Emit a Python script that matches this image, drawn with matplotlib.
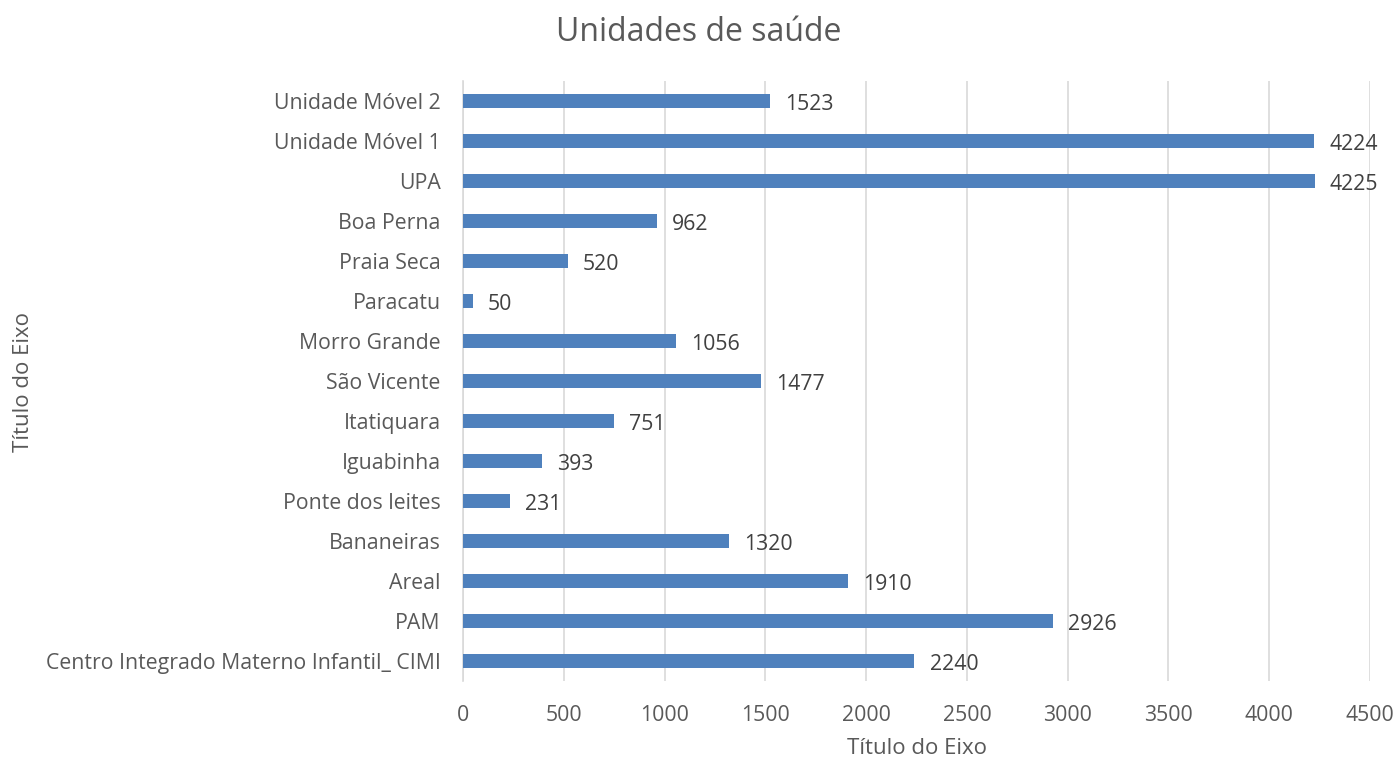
import matplotlib
matplotlib.use("Agg")
import matplotlib.pyplot as plt

categories = ["Centro Integrado Materno Infantil_ CIMI", "PAM", "Areal", "Bananeiras",
              "Ponte dos leites", "Iguabinha", "Itatiquara", "São Vicente", "Morro Grande",
              "Paracatu", "Praia Seca", "Boa Perna", "UPA", "Unidade Móvel 1", "Unidade Móvel 2"]
values = [2240, 2926, 1910, 1320, 231, 393, 751, 1477, 1056, 50, 520, 962, 4225, 4224, 1523]
xticks = [0, 500, 1000, 1500, 2000, 2500, 3000, 3500, 4000, 4500]

plt.rcParams['font.family'] = ['Open Sans', 'DejaVu Sans']
txt = '#595959'

fig = plt.figure(figsize=(13.97, 7.64), dpi=100)
ax = fig.add_axes([0.3314, 0.1086, 0.6493, 0.7854])
pos = list(range(len(categories)))
ax.barh(pos, values, height=0.36, color='#4F81BD', zorder=3)
for p, v in zip(pos, values):
    ax.text(v + 75, p - 0.08, str(v), va='center', ha='left', fontsize=15.3, color='#404040')
ax.set_xlim(0, 4500)
ax.set_ylim(-0.5, len(categories) - 0.5)
ax.set_yticks(pos)
ax.set_yticklabels(categories, fontsize=15.3, color=txt)
ax.set_xticks(xticks)
ax.set_xticklabels([str(t) for t in xticks], fontsize=15.3, color=txt)
ax.grid(axis='x', color='#D9D9D9', linewidth=1.2, zorder=0)
for s in ['top', 'right', 'bottom']:
    ax.spines[s].set_visible(False)
ax.spines['left'].set_color('#D9D9D9')
ax.spines['left'].set_linewidth(1.2)
ax.tick_params(axis='y', length=0, pad=16)
ax.tick_params(axis='x', length=0, pad=17)
ax.set_xlabel('Título do Eixo', fontsize=16, color=txt, labelpad=9)
fig.text(0.009, 0.5, 'Título do Eixo', rotation=90, va='center', ha='left', fontsize=16, color=txt)
fig.text(0.5, 0.958, 'Unidades de saúde', ha='center', va='center', fontsize=23, color=txt)
fig.savefig('out.png', dpi=100)
